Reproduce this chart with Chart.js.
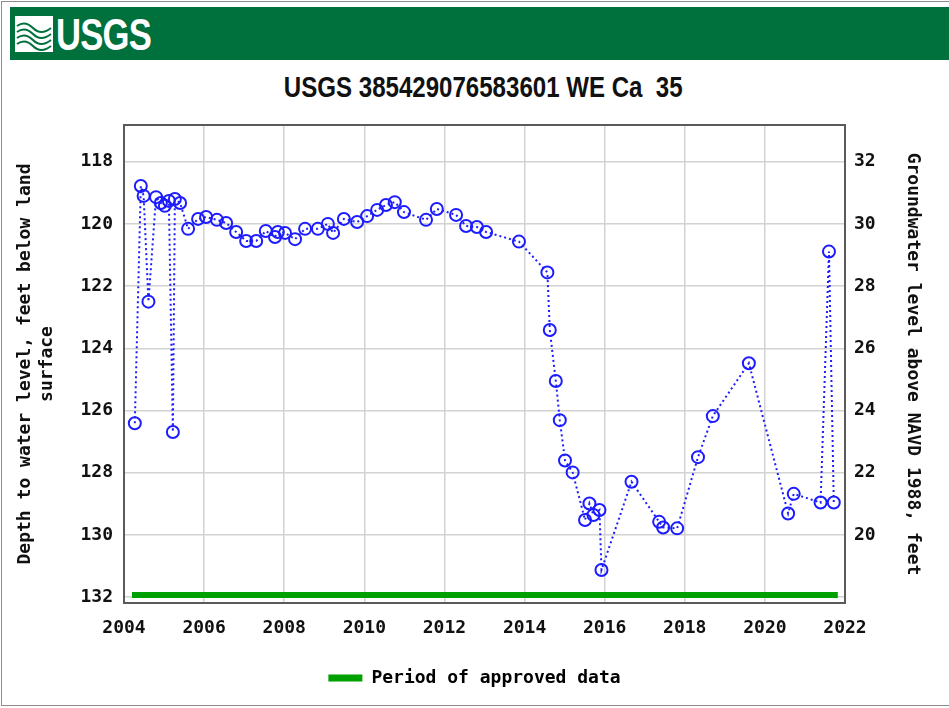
<!DOCTYPE html>
<html>
<head>
<meta charset="utf-8">
<title>USGS 385429076583601 WE Ca 35</title>
<script src="https://cdn.jsdelivr.net/npm/chart.js@4.4.1/dist/chart.umd.min.js"></script>
<style>
    html, body { margin: 0; padding: 0; background: #fff; }
    #page { position: relative; width: 949px; height: 708px; overflow: hidden; }
    #frame { position: absolute; left: 1px; top: 1px; width: 980px; height: 705px; border: 1px solid #8c8c8c; box-sizing: border-box; }
    #banner { position: absolute; left: 10px; top: 7px; width: 960px; height: 53px; background: #00703c; }
    #logo { position: absolute; left: 5px; top: 9px; }
    #brand { position: absolute; left: 46px; top: 2px; color: #fff; font: bold 45px 'Liberation Sans', Arial, sans-serif;
             letter-spacing: -1px; transform: scaleX(0.77); transform-origin: left center; }
    #title { position: absolute; left: 9px; top: 71px; width: 949px; text-align: center; }
    #title span { display: inline-block; color: #111; font: bold 29px 'Liberation Sans', Arial, sans-serif; white-space: pre;
                  transform: scaleX(0.83); transform-origin: center center; }
    #chart { position: absolute; left: 0; top: 0; }
</style>
</head>
<body>
<div id="page">
    <div id="frame"></div>
    <div id="banner">
        <svg id="logo" width="38" height="36" viewBox="0 0 38 36">
            <rect x="0" y="0" width="38" height="36" fill="#fff"/>
            <path d="M2 10 Q10 4 18 12 T36 12" stroke="#00703c" stroke-width="2" fill="none"/>
            <path d="M2 16 Q10 10 18 18 T36 18" stroke="#00703c" stroke-width="2" fill="none"/>
            <path d="M2 22 Q10 16 18 24 T36 24" stroke="#00703c" stroke-width="2" fill="none"/>
            <path d="M2 28 Q10 22 18 30 T36 30" stroke="#00703c" stroke-width="2" fill="none"/>
        </svg>
        <div id="brand">USGS</div>
    </div>
    <div id="title"><span>USGS 385429076583601 WE Ca  35</span></div>
    <canvas id="chart" width="949" height="708"></canvas>
</div>

<script>
// 观测数据（十进制年份、地面以下水位深度 ft）
const years = [
    2004.27, 2004.42, 2004.49, 2004.61, 2004.80, 2004.92, 2005.02, 2005.12, 2005.22, 2005.27,
    2005.40, 2005.60, 2005.85, 2006.05, 2006.32, 2006.55, 2006.80, 2007.05, 2007.30, 2007.54,
    2007.77, 2007.84, 2008.02, 2008.27, 2008.52, 2008.84, 2009.09, 2009.22, 2009.49, 2009.82,
    2010.07, 2010.32, 2010.54, 2010.76, 2010.99, 2011.54, 2011.81, 2012.29, 2012.54, 2012.81,
    2013.04, 2013.86, 2014.57, 2014.63, 2014.78, 2014.88, 2015.01, 2015.20, 2015.51, 2015.62,
    2015.72, 2015.87, 2015.92, 2016.67, 2017.36, 2017.46, 2017.81, 2018.33, 2018.70, 2019.60,
    2020.58, 2020.72, 2021.39, 2021.60, 2021.72
];
const depths = [
    126.41, 118.78, 119.10, 122.50, 119.14, 119.33, 119.42, 119.26, 126.69, 119.20,
    119.33, 120.16, 119.84, 119.78, 119.87, 119.97, 120.26, 120.55, 120.55, 120.23,
    120.42, 120.26, 120.29, 120.49, 120.16, 120.16, 120.00, 120.29, 119.84, 119.94,
    119.75, 119.55, 119.39, 119.30, 119.62, 119.87, 119.52, 119.71, 120.07, 120.10,
    120.26, 120.57, 121.56, 123.41, 125.05, 126.31, 127.61, 127.99, 129.52, 128.99,
    129.36, 129.20, 131.13, 128.29, 129.58, 129.76, 129.79, 127.50, 126.18, 124.48,
    129.31, 128.68, 128.96, 120.89, 128.96
];

// 坐标轴刻度
const yearTicks = [2004, 2006, 2008, 2010, 2012, 2014, 2016, 2018, 2020, 2022];
const depthTicks = [118, 120, 122, 124, 126, 128, 130, 132];
const elevTicks = [20, 22, 24, 26, 28, 30, 32];

// 审核通过数据时段
const approvedStart = 2004.2;
const approvedEnd = 2021.82;
const approvedLevel = 131.93;

// 深度 118 ft 对应 NAVD 1988 高程 32 ft
const landDatum = 150;
const depthMin = 116.82;
const depthMax = 132.19;

const waterColor = '#1c1cff';
const approvedColor = '#00a000';
const tickFont = { family: 'DejaVu Sans Mono', weight: 'bold', size: 18 };

// 绘图区边框
const framePlugin = {
    id: 'frame',
    afterDraw(chart) {
        const { ctx, chartArea: a } = chart;
        ctx.save();
        ctx.strokeStyle = '#5a5a5a';
        ctx.lineWidth = 2;
        ctx.strokeRect(a.left, a.top, a.right - a.left, a.bottom - a.top);
        ctx.restore();
    }
};

function setTicks(values) {
    return function(scale) {
        scale.ticks = values.map(v => ({ value: v }));
    };
}

const ctx = document.getElementById('chart');
new Chart(ctx, {
    type: 'line',
    data: {
        datasets: [{
            label: 'Period of approved data',
            data: [{ x: approvedStart, y: approvedLevel }, { x: approvedEnd, y: approvedLevel }],
            borderColor: approvedColor,
            backgroundColor: approvedColor,
            borderWidth: 6,
            borderCapStyle: 'butt',
            pointRadius: 0,
            yAxisID: 'y'
        }, {
            label: 'Water level',
            data: years.map((t, i) => ({ x: t, y: depths[i] })),
            borderColor: waterColor,
            borderWidth: 2,
            borderDash: [2, 3],
            pointStyle: 'circle',
            pointRadius: 6,
            pointBorderWidth: 2,
            pointBorderColor: waterColor,
            pointBackgroundColor: 'rgba(0,0,0,0)',
            fill: false,
            tension: 0,
            yAxisID: 'y'
        }]
    },
    options: {
        responsive: false,
        animation: false,
        layout: { padding: { top: 125, left: 0, right: 0, bottom: 11 } },
        plugins: {
            legend: {
                position: 'bottom',
                labels: {
                    font: tickFont,
                    color: '#111',
                    boxWidth: 34,
                    boxHeight: 7,
                    generateLabels: () => [{
                        text: 'Period of approved data',
                        fillStyle: approvedColor,
                        strokeStyle: approvedColor,
                        lineWidth: 0,
                        hidden: false,
                        datasetIndex: 0
                    }]
                }
            },
            tooltip: { enabled: false }
        },
        scales: {
            x: {
                type: 'linear',
                min: 2004,
                max: 2022,
                afterBuildTicks: setTicks(yearTicks),
                afterFit: s => { s.height = 56; },
                grid: { color: '#d2d2d2', lineWidth: 1.5, drawTicks: false },
                border: { display: false },
                ticks: { font: tickFont, color: '#111', padding: 15, maxRotation: 0, callback: v => String(v) }
            },
            y: {
                type: 'linear',
                position: 'left',
                reverse: true,
                min: depthMin,
                max: depthMax,
                afterBuildTicks: setTicks(depthTicks),
                afterFit: s => { s.width = 124; },
                grid: { color: '#d2d2d2', lineWidth: 1.5, drawTicks: false },
                border: { display: false },
                ticks: { font: tickFont, color: '#111', padding: 11 },
                title: {
                    display: true,
                    text: ['Depth to water level, feet below land', 'surface'],
                    font: tickFont,
                    color: '#111',
                    padding: { top: 15, bottom: 0 }
                }
            },
            y2: {
                type: 'linear',
                position: 'right',
                min: landDatum - depthMax,
                max: landDatum - depthMin,
                afterBuildTicks: setTicks(elevTicks),
                afterFit: s => { s.width = 104; },
                grid: { drawOnChartArea: false, drawTicks: false },
                border: { display: false },
                ticks: { font: tickFont, color: '#111', padding: 9 },
                title: {
                    display: true,
                    text: 'Groundwater level above NAVD 1988, feet',
                    font: tickFont,
                    color: '#111',
                    padding: { top: 26, bottom: 0 }
                }
            }
        }
    },
    plugins: [framePlugin]
});
</script>
</body>
</html>
